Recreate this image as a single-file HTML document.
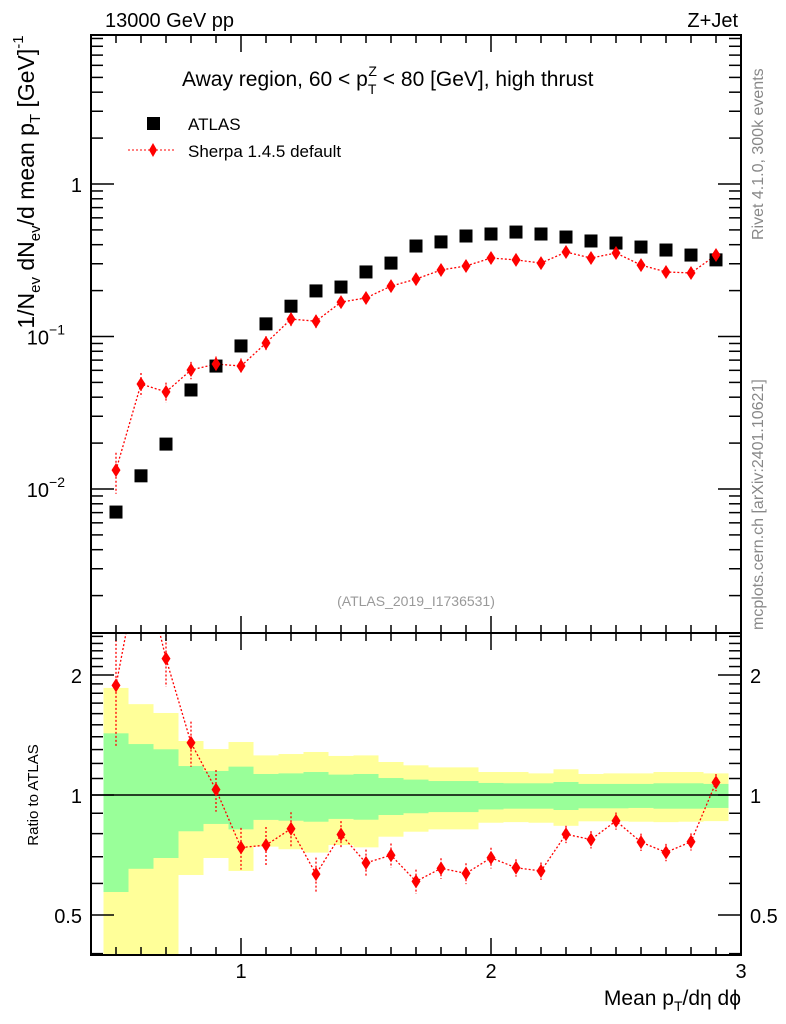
<!DOCTYPE html>
<html><head><meta charset="utf-8">
<style>
html,body{margin:0;padding:0;background:#fff;}
svg{display:block;font-family:"Liberation Sans",sans-serif;}
</style></head>
<body>
<svg id="chart" width="786" height="1024" viewBox="0 0 786 1024" xmlns="http://www.w3.org/2000/svg">
<g id="bands"></g>
<g id="marks"></g>
<g id="axes"></g>
<text x="105" y="27" font-size="20">13000 GeV pp</text>
<text x="738" y="27" font-size="20" text-anchor="end">Z+Jet</text>
<text x="182" y="86" font-size="21">Away region, 60 &lt; p<tspan font-size="14" dy="8">T</tspan><tspan font-size="14" dx="-8" dy="-18">Z</tspan><tspan dy="10"> &lt; 80 [GeV], high thrust</tspan></text>
<rect x="147" y="117" width="13" height="13" fill="#000"/>
<text x="188" y="130" font-size="17">ATLAS</text>
<line x1="128" y1="150" x2="176" y2="150" stroke="red" stroke-dasharray="2,2"/>
<path d="M153,143 L157,150 L153,157 L149,150Z" fill="red"/>
<text x="188" y="157" font-size="17">Sherpa 1.4.5 default</text>
<text x="416" y="606" font-size="14" fill="#999" text-anchor="middle">(ATLAS_2019_I1736531)</text>
<text transform="translate(763,240) rotate(-90)" font-size="16" fill="#888">Rivet 4.1.0,  300k events</text>
<text transform="translate(763,630) rotate(-90)" font-size="16" fill="#888">mcplots.cern.ch [arXiv:2401.10621]</text>
<text transform="translate(34,182) rotate(-90)" font-size="23" text-anchor="middle">1/N<tspan font-size="15" dy="6">ev</tspan><tspan dy="-6"> dN</tspan><tspan font-size="15" dy="6">ev</tspan><tspan dy="-6">/d mean p</tspan><tspan font-size="15" dy="6">T</tspan><tspan dy="-6">  [GeV]</tspan><tspan font-size="15" dy="-11">-1</tspan></text>
<text transform="translate(38,795) rotate(-90)" font-size="15" text-anchor="middle">Ratio to ATLAS</text>
<text x="741" y="1005" font-size="21" text-anchor="end">Mean p<tspan font-size="14" dy="6">T</tspan><tspan dy="-6">/dη dϕ</tspan></text>
</svg>
<script>
const xCenters=[0.5,0.6,0.7,0.8,0.9,1.0,1.1,1.2,1.3,1.4,1.5,1.6,1.7,1.8,1.9,2.0,2.1,2.2,2.3,2.4,2.5,2.6,2.7,2.8,2.9];
const atlasValues=[0.00706,0.0122,0.0197,0.0446,0.064,0.0867,0.121,0.158,0.199,0.211,0.265,0.303,0.392,0.417,0.456,0.47,0.484,0.47,0.449,0.423,0.41,0.386,0.369,0.342,0.318];
const sherpaValues=[0.0133,0.0488,0.0433,0.0603,0.066,0.064,0.0906,0.130,0.126,0.168,0.179,0.214,0.238,0.273,0.290,0.327,0.318,0.303,0.358,0.327,0.353,0.294,0.265,0.261,0.342];
const sherpaRelErr=[0.3,0.18,0.15,0.13,0.12,0.12,0.11,0.1,0.1,0.08,0.08,0.07,0.07,0.06,0.06,0.06,0.05,0.05,0.05,0.05,0.05,0.05,0.05,0.05,0.05];
const yellowUp=[1.856,1.69,1.606,1.366,1.304,1.358,1.257,1.267,1.282,1.253,1.257,1.21,1.187,1.173,1.173,1.142,1.142,1.133,1.16,1.129,1.133,1.133,1.142,1.142,1.133];
const greenUp=[1.428,1.342,1.302,1.182,1.149,1.178,1.129,1.133,1.142,1.125,1.129,1.103,1.093,1.084,1.084,1.072,1.07,1.07,1.078,1.066,1.066,1.066,1.07,1.07,1.066];
const greenLo=[0.571,0.653,0.695,0.811,0.846,0.82,0.866,0.862,0.857,0.871,0.867,0.891,0.9,0.906,0.906,0.92,0.924,0.924,0.917,0.926,0.926,0.928,0.924,0.924,0.928];
const yellowLo=[0.3,0.3,0.3,0.63,0.695,0.645,0.742,0.731,0.717,0.749,0.739,0.786,0.809,0.82,0.82,0.852,0.855,0.852,0.837,0.859,0.859,0.857,0.855,0.857,0.86];
const xTicks=[1,2,3];
const mainTicks=[{v:1,l:'1'},{v:0.1,l:'10',e:'−1'},{v:0.01,l:'10',e:'−2'}];
const ratioTicks=[{v:2,l:'2'},{v:1,l:'1'},{v:0.5,l:'0.5'}];

const L=91,R=741,T=35,M=633,B=955;
const NS='http://www.w3.org/2000/svg';
const X=v=>L+(v-0.4)*250;
const Y=v=>184-Math.log10(v)*152.5;
const YR=v=>795-Math.log2(v)*120;
function mk(parent,tag,attrs){const e=document.createElementNS(NS,tag);for(const k in attrs)e.setAttribute(k,attrs[k]);document.getElementById(parent).appendChild(e);return e;}
const clipR=v=>Math.min(Math.max(v,M),B);

xCenters.forEach((c,i)=>{
  const x0=X(c-0.05),x1=Math.min(X(c+0.05),730);
  let e=mk('bands','rect',{x:x0,y:clipR(YR(yellowUp[i])),width:x1-x0,height:clipR(YR(yellowLo[i]))-clipR(YR(yellowUp[i])),fill:'#ffff99'});
  
  
  e=mk('bands','rect',{x:x0,y:YR(greenUp[i]),width:x1-x0,height:YR(greenLo[i])-YR(greenUp[i]),fill:'#99ff99'});
  
  
});
let ln=mk('bands','line',{x1:L,x2:R,y1:YR(1),y2:YR(1),stroke:'#000','stroke-width':1.5});



const sp=xCenters.map((c,i)=>X(c)+','+Y(sherpaValues[i])).join(' ');
let pl=mk('marks','polyline',{points:sp,fill:'none',stroke:'red','stroke-width':1.3,'stroke-dasharray':'2,2'});


const rv=xCenters.map((c,i)=>sherpaValues[i]/atlasValues[i]);
const rp=xCenters.map((c,i)=>X(c)+','+YR(rv[i])).join(' ');
mk('marks','clipPath',{id:'rc'});mk('rc','rect',{x:L,y:M,width:R-L,height:B-M});
mk('marks','g',{'clip-path':'url(#rc)',id:'rg'});
pl=mk('rg','polyline',{points:rp,fill:'none',stroke:'red','stroke-width':1.3,'stroke-dasharray':'2,2'});


xCenters.forEach((c,i)=>{
  const x=X(c),s=sherpaValues[i],e=sherpaRelErr[i];
  let el=mk('marks','rect',{x:x-6.5,y:Y(atlasValues[i])-6.5,width:13,height:13,fill:'#000'});
  
  
  el=mk('marks','line',{x1:x,x2:x,y1:Y(s*(1+e)),y2:Y(s*(1-e)),stroke:'red','stroke-width':1.3,'stroke-dasharray':'2,2'});
  
  
  const y=Y(s);
  el=mk('marks','path',{d:`M${x},${y-7}L${x+4.5},${y}L${x},${y+7}L${x-4.5},${y}Z`,fill:'red'});
  
  
  const r=rv[i],yr=YR(r);
  el=mk('rg','line',{x1:x,x2:x,y1:YR(r*(1+e)),y2:YR(r*(1-e)),stroke:'red','stroke-width':1.3,'stroke-dasharray':'2,2'});
  
  
  el=mk('rg','path',{d:`M${x},${yr-7}L${x+4.5},${yr}L${x},${yr+7}L${x-4.5},${yr}Z`,fill:'red'});
  
  
});

[[T,M],[M,B]].forEach(([t,b])=>{let f=mk('axes','rect',{x:L,y:t,width:R-L,height:b-t,fill:'none',stroke:'#000','stroke-width':2});

});
function tk(x1,y1,x2,y2){mk('axes','line',{x1,y1,x2,y2,stroke:'#000','stroke-width':1.5});}
for(let v=0.5;v<=3.001;v+=0.1){const x=X(v),maj=Math.abs(v-Math.round(v))<0.01,len=maj?17:8;
  [T,M].forEach(y=>tk(x,y,x,y+len));[M,B].forEach(y=>tk(x,y,x,y-len));}
xTicks.forEach(v=>{let t=mk('axes','text',{x:X(v),y:978,'font-size':20,'text-anchor':'middle'});t.textContent=v;

});
for(let d=-3;d<=0;d++)for(let m=1;m<10;m++){const v=m*Math.pow(10,d),y=Y(v);if(y<T||y>M)continue;const len=m==1?23:12;tk(L,y,L+len,y);tk(R,y,R-len,y);}
mainTicks.forEach(o=>{let t=mk('axes','text',{x:o.e?65:82,y:Y(o.v)+8,'font-size':20,'text-anchor':'end'});t.textContent=o.l;
if(o.e){let s=document.createElementNS(NS,'tspan');s.setAttribute('font-size','14');s.setAttribute('dy','-10');s.textContent=o.e;t.appendChild(s);}

});
[0.4,0.5,0.6,0.7,0.8,0.9,1,1.1,1.2,1.3,1.4,1.5,1.6,1.7,1.8,1.9,2,2.1,2.2,2.3,2.4,2.5].forEach(v=>{const y=YR(v);if(y<M||y>B)return;const maj=[0.5,1,2].includes(v),len=maj?23:12;tk(L,y,L+len,y);tk(R,y,R-len,y);});
ratioTicks.forEach(o=>{[[82,'end'],[750,'start']].forEach(([x,a])=>{let t=mk('axes','text',{x,y:YR(o.v)+8,'font-size':20,'text-anchor':a});t.textContent=o.l;

});});
</script>
</body></html>
